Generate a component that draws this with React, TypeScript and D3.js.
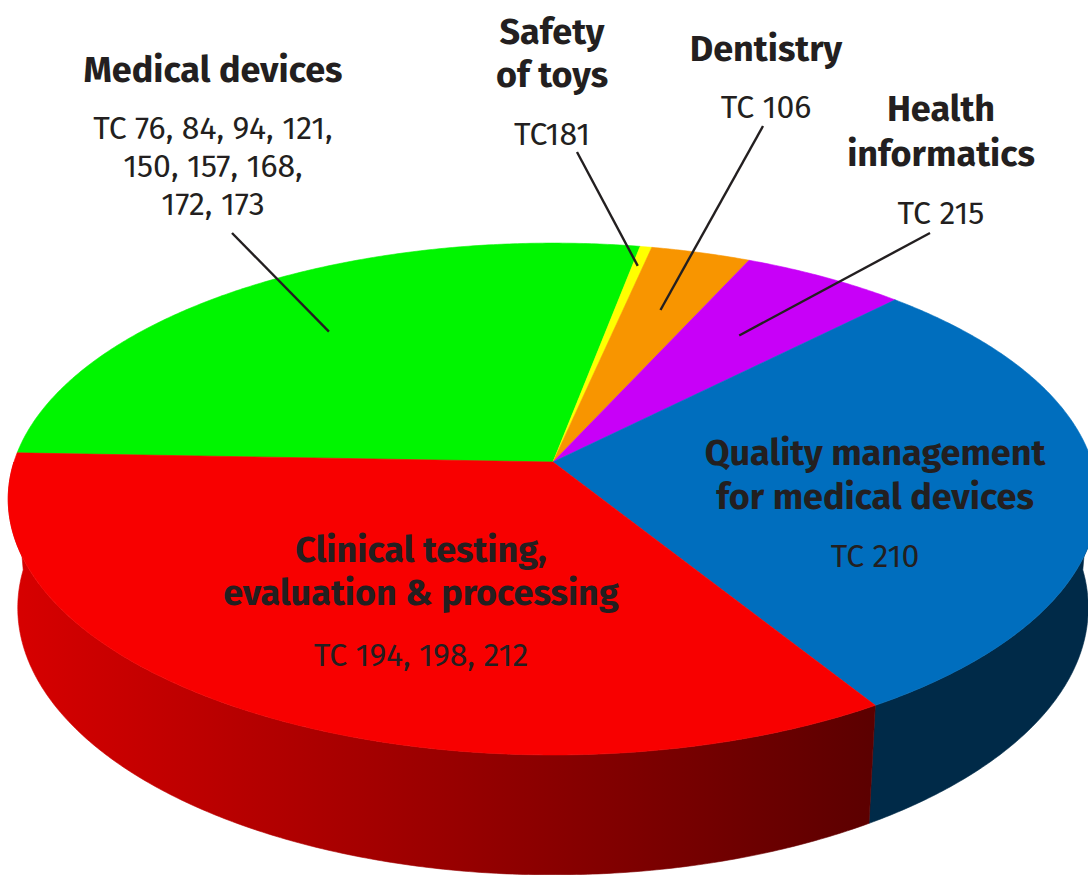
import React, { useRef, useEffect } from 'react';
import * as d3 from 'd3';

// slices in clockwise order, starting at the left edge of the pie
const categories = [
  'Medical devices',
  'Safety of toys',
  'Dentistry',
  'Health informatics',
  'Quality management for medical devices',
  'Clinical testing, evaluation & processing',
];
const shares = [27.4, 0.4, 3.4, 5.6, 28.9, 34.4];
const committees = [
  ['TC 76, 84, 94, 121,', '150, 157, 168,', '172, 173'],
  ['TC181'],
  ['TC 106'],
  ['TC 215'],
  ['TC 210'],
  ['TC 194, 198, 212'],
];
const titleLines = [
  ['Medical devices'],
  ['Safety', 'of toys'],
  ['Dentistry'],
  ['Health', 'informatics'],
  ['Quality management', 'for medical devices'],
  ['Clinical testing,', 'evaluation & processing'],
];

const topColors = ['#00f500', '#ffff00', '#f89500', '#c800f8', '#006ebe', '#f80000'];
const sideColors = [
  ['#00b000', '#007000'],
  ['#c0c000', '#909000'],
  ['#b06800', '#804800'],
  ['#9000b0', '#600080'],
  ['#002e4e', '#002a48'],
  ['#d80000', '#5a0000'],
];

// label placement (title baseline, line gaps, leader start, leader end radius)
const labelLayout = [
  { x: 213, y: 82, gap: 0, tcY: 139, tcGap: 38, from: [232, 233], rho: 0.72 },
  { x: 552, y: 44, gap: 43, tcY: 145, tcGap: 0, from: [577, 152], rho: 0.9 },
  { x: 766, y: 61, gap: 0, tcY: 118, tcGap: 0, from: [763, 126], rho: 0.7 },
  { x: 941, y: 121, gap: 45, tcY: 224, tcGap: 0, from: [930, 233], rho: 0.66 },
  { x: 875, y: 465, gap: 44, tcY: 567, tcGap: 0, from: null, rho: 0 },
  { x: 421, y: 562, gap: 43, tcY: 666, tcGap: 0, from: null, rho: 0 },
];

const W = 1088;
const H = 875;

const App = () => {
  const svgRef = useRef<SVGSVGElement>(null);

  useEffect(() => {
    const svg = d3.select(svgRef.current);
    svg.selectAll('*').remove();

    // perspective camera looking down on a unit disc
    const cx = 553;
    const cy = 462;
    const tilt = (27.7 * Math.PI) / 180;
    const sinP = Math.sin(tilt);
    const cosP = Math.cos(tilt);
    const dist = 6.12;
    const focal = 3299;
    const depthH = 0.23;
    const t0 = (177.9 * Math.PI) / 180;

    const project = (rho: number, t: number, z: number): [number, number] => {
      const x = rho * Math.cos(t);
      const y = rho * Math.sin(t);
      const depth = dist + y * cosP - z * sinP;
      return [cx + (focal * x) / depth, cy - (focal * (y * sinP + z * cosP)) / depth];
    };

    const pie = d3.pie<number>().sort(null).value(d => d);
    const arcs = pie(shares);
    const line = d3.line();
    const step = Math.PI / 360;

    const sample = (a: number, b: number) => {
      const n = Math.max(2, Math.ceil(Math.abs(b - a) / step));
      return d3.range(n + 1).map(i => a + ((b - a) * i) / n);
    };

    const defs = svg.append('defs');
    sideColors.forEach((c, i) => {
      const g = defs.append('linearGradient')
        .attr('id', `side${i}`)
        .attr('gradientUnits', 'userSpaceOnUse')
        .attr('x1', cx - 545).attr('x2', cx + 330)
        .attr('y1', 0).attr('y2', 0);
      g.append('stop').attr('offset', 0).attr('stop-color', c[0]);
      g.append('stop').attr('offset', 1).attr('stop-color', c[1]);
    });

    // side walls: front half of the cylinder only
    const sides = svg.append('g');
    arcs.forEach((d, i) => {
      const tA = t0 - d.endAngle;
      const tB = t0 - d.startAngle;
      [-1, 0, 1].forEach(k => {
        const lo = Math.max(tA, -Math.PI + 2 * Math.PI * k);
        const hi = Math.min(tB, 2 * Math.PI * k);
        if (hi - lo <= 1e-6) return;
        const ts = sample(lo, hi);
        const pts = ts.map(t => project(1, t, 0))
          .concat(ts.slice().reverse().map(t => project(1, t, -depthH)));
        sides.append('path')
          .attr('d', line(pts) + 'Z')
          .attr('fill', `url(#side${i})`)
          .attr('stroke', `url(#side${i})`)
          .attr('stroke-width', 0.6);
      });
    });

    // top face
    svg.append('g')
      .selectAll('path')
      .data(arcs)
      .join('path')
      .attr('d', d => {
        const ts = sample(t0 - d.startAngle, t0 - d.endAngle);
        const pts: [number, number][] = [project(0, 0, 0), ...ts.map(t => project(1, t, 0))];
        return line(pts) + 'Z';
      })
      .attr('fill', (d, i) => topColors[i])
      .attr('stroke', (d, i) => topColors[i])
      .attr('stroke-width', 0.6);

    // leader lines
    svg.append('g')
      .selectAll('line')
      .data(arcs.filter((d, i) => labelLayout[i].from))
      .join('line')
      .each(function (d) {
        const L = labelLayout[d.index];
        const mid = t0 - (d.startAngle + d.endAngle) / 2;
        const [x2, y2] = project(L.rho, mid, 0);
        d3.select(this)
          .attr('x1', L.from![0]).attr('y1', L.from![1])
          .attr('x2', x2).attr('y2', y2);
      })
      .attr('stroke', '#231f20')
      .attr('stroke-width', 2.4);

    // labels
    const labels = svg.append('g')
      .attr('font-family', "'Fira Sans', Roboto, sans-serif")
      .attr('fill', '#231f20')
      .attr('text-anchor', 'middle');

    categories.forEach((name, i) => {
      const L = labelLayout[i];
      const g = labels.append('g').attr('aria-label', name);
      g.selectAll('text.title')
        .data(titleLines[i])
        .join('text')
        .attr('class', 'title')
        .attr('x', L.x)
        .attr('y', (s, j) => L.y + j * L.gap)
        .attr('font-size', 36)
        .attr('font-weight', 700)
        .text(s => s);
      g.selectAll('text.tc')
        .data(committees[i])
        .join('text')
        .attr('class', 'tc')
        .attr('x', L.x)
        .attr('y', (s, j) => L.tcY + j * L.tcGap)
        .attr('font-size', 32)
        .attr('font-weight', 400)
        .text(s => s);
    });
  }, []);

  return (
    <svg
      ref={svgRef}
      width={W}
      height={H}
      viewBox={`0 0 ${W} ${H}`}
      style={{ position: 'absolute', left: 0, top: 0, background: '#fff' }}
    />
  );
};

export default App;
